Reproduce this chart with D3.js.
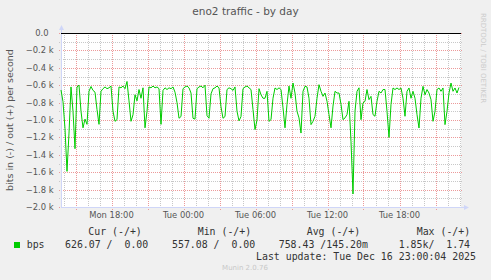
<!DOCTYPE html>
<html>
<head>
<meta charset="utf-8">
<script src="https://cdn.jsdelivr.net/npm/d3@7"></script>
<style>
  html, body { margin: 0; padding: 0; background: #f0f0f0; }
  svg { display: block; }
  text { font-family: "DejaVu Sans", sans-serif; fill: #555; }
  .mono { font-family: "DejaVu Sans Mono", monospace; white-space: pre; fill: #333; }
</style>
</head>
<body>
<svg id="chart" width="491" height="280"></svg>
<script>
// munin "eno2 traffic - by day", inbound bits per second (drawn negative)
const startTime = new Date(2025, 11, 15, 13, 47, 30);
const endTime = new Date(2025, 11, 16, 23, 7, 30);
const stepMinutes = 10;

const inBps = [
  655, 790, 1100, 1590, 1150, 620, 900, 1330, 620, 600,
  900, 1090, 990, 1050, 670, 615, 660, 680, 880, 1050,
  670, 640, 620, 640, 630, 610, 900, 1015, 996, 620,
  630, 610, 640, 557, 780, 1015, 940, 710, 780, 650,
  750, 630, 1090, 900, 620, 630, 610, 630, 620, 640,
  1050, 660, 630, 650, 630, 640, 620, 680, 800, 980,
  960, 640, 620, 610, 630, 690, 980, 990, 640, 620,
  610, 630, 600, 950, 980, 700, 640, 630, 610, 630,
  850, 980, 960, 650, 630, 640, 660, 620, 900, 1010,
  960, 640, 620, 610, 630, 650, 880, 1110, 1000, 640,
  710, 750, 750, 670, 1015, 996, 750, 632, 650, 630,
  650, 860, 1090, 820, 610, 750, 575, 690, 900, 976,
  1150, 670, 613, 620, 750, 1053, 1015, 957, 750, 594,
  670, 728, 690, 785, 938, 1090, 840, 670, 690, 690,
  820, 996, 976, 938, 785, 1250, 1850, 900, 670, 630,
  996, 804, 785, 650, 766, 728, 938, 957, 785, 670,
  690, 650, 650, 900, 1200, 820, 632, 650, 632, 650,
  632, 750, 957, 670, 632, 750, 670, 750, 938, 1092,
  750, 613, 710, 650, 690, 766, 1015, 900, 650, 632,
  670, 632, 1053, 900, 690, 575, 670, 632, 690, 626
];

const yMajorTicks = [0, -200, -400, -600, -800, -1000, -1200, -1400, -1600, -1800, -2000];
const yMinorTicks = [-100, -300, -500, -700, -900, -1100, -1300, -1500, -1700, -1900];

const legendHeaders = ["Cur (-/+)", "Min (-/+)", "Avg (-/+)", "Max (-/+)"];
const legendValues = ["626.07 /  0.00", "557.08 /  0.00", "758.43 /145.20m", "1.85k/  1.74"];
const seriesName = "bps";
const lastUpdate = "Last update: Tue Dec 16 23:00:04 2025";

const plotLeft = 61, plotRight = 461, plotTop = 33, plotBottom = 207;
const axisColor = "#cfd6f8";

const svg = d3.select("#chart");

const x = d3.scaleTime().domain([startTime, endTime]).range([plotLeft, plotRight]);
const y = d3.scaleLinear().domain([-2000, 0]).range([plotBottom, plotTop]);

const data = inBps.map((v, i) => ({ t: d3.timeMinute.offset(startTime, i * stepMinutes), v: -v }));

// canvas
svg.append("rect")
  .attr("x", plotLeft).attr("y", plotTop)
  .attr("width", plotRight - plotLeft).attr("height", plotBottom - plotTop)
  .attr("fill", "#fff");

const hours = x.ticks(d3.timeHour.every(1));
const crisp = v => Math.round(v) + 0.5;

// minor grid
const grid = svg.append("g").attr("stroke-dasharray", "1,1").attr("stroke-width", 1);
grid.append("g").selectAll("line")
  .data(hours.filter(d => d.getHours() % 3 !== 0))
  .join("line")
  .attr("x1", d => crisp(x(d))).attr("x2", d => crisp(x(d)))
  .attr("y1", plotTop).attr("y2", plotBottom + 2)
  .attr("stroke", "#c8c8c8");
grid.append("g").selectAll("line")
  .data(yMinorTicks)
  .join("line")
  .attr("x1", plotLeft - 2).attr("x2", plotRight + 2)
  .attr("y1", d => crisp(y(d))).attr("y2", d => crisp(y(d)))
  .attr("stroke", "#c8c8c8");

// major grid
const mgrid = svg.append("g").attr("stroke-dasharray", "1,1").attr("stroke-width", 1);
mgrid.append("g").selectAll("line")
  .data(hours.filter(d => d.getHours() % 3 === 0))
  .join("line")
  .attr("x1", d => crisp(x(d))).attr("x2", d => crisp(x(d)))
  .attr("y1", plotTop).attr("y2", plotBottom + 3)
  .attr("stroke", "#ec9a9a");
mgrid.append("g").selectAll("line")
  .data(yMajorTicks)
  .join("line")
  .attr("x1", plotLeft - 2).attr("x2", plotRight + 2)
  .attr("y1", d => crisp(y(d))).attr("y2", d => crisp(y(d)))
  .attr("stroke", "#ec9a9a");

// axes with arrows
svg.append("line")
  .attr("x1", plotLeft + 0.5).attr("x2", plotLeft + 0.5)
  .attr("y1", plotBottom + 1).attr("y2", plotTop - 5)
  .attr("stroke", axisColor);
svg.append("path")
  .attr("d", `M${plotLeft - 2},${plotTop - 3}L${plotLeft + 0.5},${plotTop - 8}L${plotLeft + 3},${plotTop - 3}Z`)
  .attr("fill", axisColor);
svg.append("line")
  .attr("x1", plotLeft).attr("x2", plotRight + 4)
  .attr("y1", plotBottom + 0.5).attr("y2", plotBottom + 0.5)
  .attr("stroke", axisColor);
svg.append("path")
  .attr("d", `M${plotRight + 3},${plotBottom - 2}L${plotRight + 8},${plotBottom + 0.5}L${plotRight + 3},${plotBottom + 3}Z`)
  .attr("fill", axisColor);

// zero line
svg.append("line")
  .attr("x1", plotLeft).attr("x2", plotRight)
  .attr("y1", crisp(y(0))).attr("y2", crisp(y(0)))
  .attr("stroke", "#000");

// series
svg.append("path")
  .datum(data)
  .attr("fill", "none")
  .attr("stroke", "#00cc00")
  .attr("stroke-width", 1)
  .attr("d", d3.line().x(d => x(d.t)).y(d => y(d.v)));

// y tick labels
svg.append("g").selectAll("text")
  .data(yMajorTicks)
  .join("text")
  .attr("x", d => d === 0 ? 48.5 : 53.5)
  .attr("y", d => y(d))
  .attr("dy", "0.35em")
  .attr("text-anchor", "end")
  .style("font-size", "8.4px")
  .text(d => d === 0 ? "0.0" : d3.format(".1f")(d / 1000) + " k");

// x tick labels
const fmt = d3.timeFormat("%a %H:%M");
svg.append("g").selectAll("text")
  .data(hours.filter(d => d.getHours() % 6 === 0))
  .join("text")
  .attr("x", d => x(d))
  .attr("y", 218)
  .attr("text-anchor", "middle")
  .style("font-size", "8.4px")
  .text(d => fmt(d));

// title and labels
svg.append("text")
  .attr("x", 245.5).attr("y", 15)
  .attr("text-anchor", "middle")
  .style("font-size", "10.5px")
  .text("eno2 traffic - by day");

svg.append("text")
  .attr("transform", "translate(10,120) rotate(-90)")
  .attr("text-anchor", "middle")
  .attr("dy", "0.35em")
  .style("font-size", "9.5px")
  .text("bits in (-) / out (+) per second");

svg.append("text")
  .attr("transform", "translate(483,58) rotate(90)")
  .attr("text-anchor", "middle")
  .attr("dy", "0.35em")
  .style("font-size", "7px")
  .style("fill", "#ccc")
  .text("RRDTOOL / TOBI OETIKER");

// legend
const headerX = [88.3, 197.7, 306.7, 416.7];
const valueX = [65, 172, 278.7, 398.7];
svg.append("g").selectAll("text")
  .data(legendHeaders)
  .join("text")
  .attr("class", "mono")
  .attr("x", (d, i) => headerX[i])
  .attr("y", 235)
  .style("font-size", "9.9px")
  .text(d => d);

svg.append("rect")
  .attr("x", 14).attr("y", 242)
  .attr("width", 6).attr("height", 6)
  .attr("fill", "#00cc00");
svg.append("text")
  .attr("class", "mono")
  .attr("x", 26.7).attr("y", 247.5)
  .style("font-size", "9.9px")
  .text(seriesName);
svg.append("g").selectAll("text")
  .data(legendValues)
  .join("text")
  .attr("class", "mono")
  .attr("x", (d, i) => valueX[i])
  .attr("y", 247.5)
  .style("font-size", "9.9px")
  .text(d => d);

svg.append("text")
  .attr("class", "mono")
  .attr("x", 256).attr("y", 259.5)
  .style("font-size", "9.9px")
  .text(lastUpdate);

svg.append("text")
  .attr("x", 245).attr("y", 270)
  .attr("text-anchor", "middle")
  .style("font-size", "7px")
  .style("fill", "#c8c8c8")
  .text("Munin 2.0.76");
</script>
</body>
</html>
